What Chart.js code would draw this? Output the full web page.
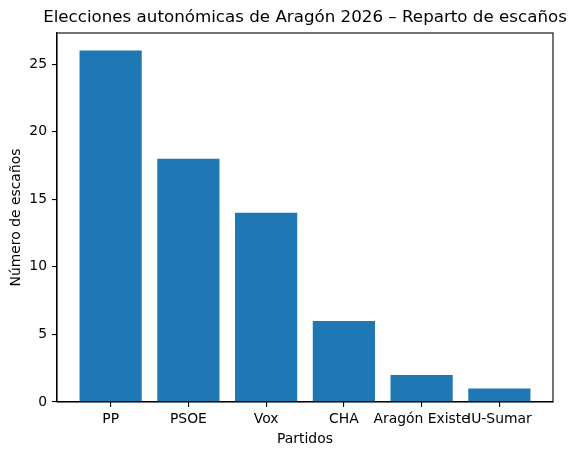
<!DOCTYPE html>
<html>
<head>
<meta charset="utf-8">
<script src="https://cdn.jsdelivr.net/npm/chart.js@4/dist/chart.umd.min.js"></script>
<style>
html,body{margin:0;padding:0;background:#fff;}
#wrap{width:575px;height:456px;}
</style>
</head>
<body>
<div id="wrap"><canvas id="c" width="575" height="456"></canvas></div>
<script>
const categories = ["PP", "PSOE", "Vox", "CHA", "Aragón Existe", "IU-Sumar"];
const seats = [26, 18, 14, 6, 2, 1];
const yTicks = [0, 5, 10, 15, 20, 25];
const titleText = "Elecciones autonómicas de Aragón 2026 – Reparto de escaños";
const xTitle = "Partidos";
const yTitle = "Número de escaños";

const FONT = "'DejaVu Sans', sans-serif";
const barWidth = 0.8;
const xMinData = -barWidth / 2, xMaxData = categories.length - 1 + barWidth / 2;
const xMargin = (xMaxData - xMinData) * 0.05;
const yMax = Math.max(...seats) * 1.05;

const spinesAndTitle = {
  id: 'spinesAndTitle',
  afterDraw(chart) {
    const {ctx, chartArea: a} = chart;
    ctx.save();
    ctx.strokeStyle = '#000';
    ctx.lineWidth = 1.1;
    ctx.strokeRect(a.left, a.top, a.right - a.left, a.bottom - a.top);
    ctx.fillStyle = '#000';
    ctx.font = "16.7px " + FONT;
    ctx.textAlign = 'center';
    ctx.textBaseline = 'middle';
    ctx.fillText(titleText, (a.left + a.right) / 2, 18);
    ctx.restore();
  }
};

new Chart(document.getElementById('c'), {
  type: 'bar',
  data: {
    datasets: [{
      data: seats.map((v, i) => ({x: i, y: v})),
      backgroundColor: '#1f77b4',
      borderWidth: 0,
      barPercentage: barWidth,
      categoryPercentage: 1.0
    }]
  },
  options: {
    responsive: false,
    animation: false,
    devicePixelRatio: 1,
    layout: {padding: {top: 33, right: 22, left: 0, bottom: 0}},
    plugins: {legend: {display: false}, tooltip: {enabled: false}, title: {display: false}},
    scales: {
      x: {
        type: 'linear',
        offset: false,
        min: xMinData - xMargin,
        max: xMaxData + xMargin,
        afterBuildTicks(scale) { scale.ticks = categories.map((c, i) => ({value: i})); },
        afterFit(scale) { scale.height = 54; },
        ticks: {
          autoSkip: false, maxRotation: 0, minRotation: 0,
          padding: 4,
          color: '#000',
          font: {family: FONT, size: 13.9},
          callback: (v) => categories[Math.round(v)] ?? ''
        },
        grid: {display: true, offset: false, drawOnChartArea: false, drawTicks: true, tickLength: 5, color: '#000', lineWidth: 1.1},
        border: {display: true, color: '#000', width: 1.1},
        title: {display: true, text: xTitle, color: '#000', font: {family: FONT, size: 13.9}, padding: {top: 0, bottom: 8}}
      },
      y: {
        min: 0,
        max: yMax,
        afterBuildTicks(scale) { scale.ticks = yTicks.map(v => ({value: v})); },
        afterFit(scale) { scale.width = 57; },
        ticks: {
          padding: 5,
          color: '#000',
          font: {family: FONT, size: 13.9}
        },
        grid: {display: true, offset: false, drawOnChartArea: false, drawTicks: true, tickLength: 5, color: '#000', lineWidth: 1.1},
        border: {display: true, color: '#000', width: 1.1},
        title: {display: true, text: yTitle, color: '#000', font: {family: FONT, size: 13.9}, padding: {top: 8, bottom: 0}}
      }
    }
  },
  plugins: [spinesAndTitle]
});
</script>
</body>
</html>
